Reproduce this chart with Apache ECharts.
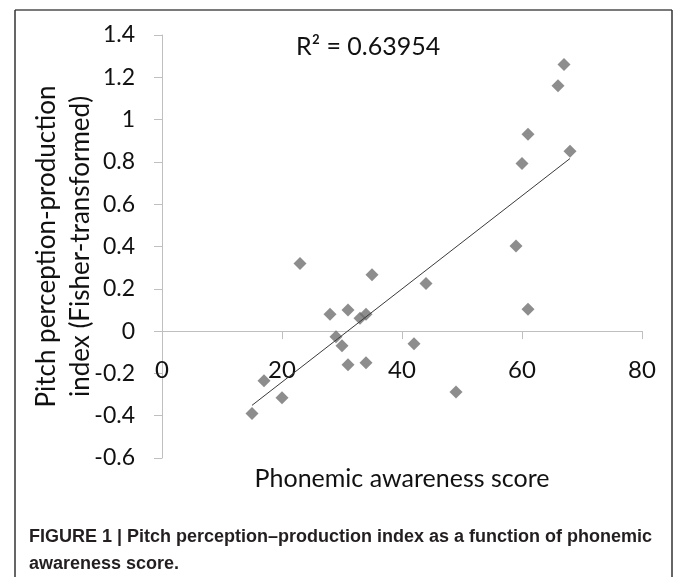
<!DOCTYPE html>
<html>
<head>
<meta charset="utf-8">
<script src="https://cdn.jsdelivr.net/npm/echarts@6/dist/echarts.min.js"></script>
<style>
  body { margin: 0; background: #fff; }
  #chart { width: 675px; height: 577px; }
</style>
</head>
<body>
<div id="chart"></div>
<script>
// phonemic awareness score (x) vs pitch perception-production index (y)
const scoreX = [15, 17, 20, 23, 28, 29, 30, 31, 31, 33, 34, 34, 35, 42, 44, 49, 59, 60, 61, 61, 66, 67, 68]
const indexY = [-0.39, -0.235, -0.315, 0.32, 0.08, -0.027, -0.069, 0.1, -0.159, 0.061, 0.08, -0.15, 0.266, -0.06, 0.225, -0.288, 0.402, 0.793, 0.931, 0.103, 1.16, 1.26, 0.85]
// linear trendline end points as drawn
const trendX = [15, 68]
const trendY = [-0.351, 0.816]
const xTicks = [0, 20, 40, 60, 80]
const yTicks = [-0.6, -0.4, -0.2, 0, 0.2, 0.4, 0.6, 0.8, 1, 1.2, 1.4]
const rSquared = 'R² = 0.63954'

const font = 'Lato, "Open Sans", sans-serif'
const chart = echarts.init(document.getElementById('chart'), null, { renderer: 'canvas' })

chart.setOption({
  animation: false,
  backgroundColor: '#fff',
  grid: { left: 162, right: 33, top: 35, bottom: 119, containLabel: false, outerBoundsMode: 'none' },
  title: [{
    text: rSquared,
    left: 291,
    top: 29,
    textStyle: { fontFamily: font, fontSize: 25, fontWeight: 'normal', color: '#111' }
  }, {
    text: 'FIGURE 1 | Pitch perception\u2013production index as a function of phonemic\nawareness score.',
    left: 24,
    top: 519,
    textStyle: {
      fontFamily: '"Liberation Sans Narrow", "Liberation Sans", sans-serif',
      fontSize: 18,
      fontWeight: 'bold',
      color: '#231f20',
      lineHeight: 27
    }
  }],
  graphic: [
    { type: 'line', shape: { x1: 15, y1: 10, x2: 672, y2: 10 }, style: { stroke: '#7a7a7a', lineWidth: 2 } },
    { type: 'line', shape: { x1: 15, y1: 10, x2: 15, y2: 577 }, style: { stroke: '#333', lineWidth: 1.5 } },
    { type: 'line', shape: { x1: 672, y1: 10, x2: 672, y2: 577 }, style: { stroke: '#333', lineWidth: 1.5 } }
  ],
  xAxis: {
    type: 'value',
    min: xTicks[0],
    max: xTicks[xTicks.length - 1],
    interval: 20,
    name: 'Phonemic awareness score',
    nameLocation: 'middle',
    nameGap: 8,
    nameTextStyle: { fontFamily: font, fontSize: 25, color: '#111' },
    axisLine: { onZero: true, lineStyle: { color: '#bfbfbf', width: 1 } },
    axisTick: { show: true, length: 8, lineStyle: { color: '#bfbfbf' } },
    // labels sit just under the zero line, as in the original
    axisLabel: { fontFamily: font, fontSize: 24, color: '#111', margin: -100 },
    splitLine: { show: false }
  },
  yAxis: {
    type: 'value',
    min: yTicks[0],
    max: yTicks[yTicks.length - 1],
    interval: 0.2,
    name: 'Pitch perception-production\nindex (Fisher-transformed)',
    nameLocation: 'middle',
    nameRotate: 90,
    nameGap: 64,
    nameMoveOverlap: false,
    nameTextStyle: { fontFamily: font, fontSize: 26, color: '#111', lineHeight: 34 },
    axisLine: { show: true, onZero: false, lineStyle: { color: '#bfbfbf', width: 1 } },
    axisTick: { show: true, length: 8, lineStyle: { color: '#bfbfbf' } },
    axisLabel: { fontFamily: font, fontSize: 23, color: '#111', margin: 27 },
    splitLine: { show: false }
  },
  series: [{
    type: 'scatter',
    symbol: 'diamond',
    symbolSize: 13,
    itemStyle: { color: '#717171' },
    data: scoreX.map((x, i) => [x, indexY[i]])
  }, {
    type: 'line',
    symbol: 'none',
    lineStyle: { color: '#3a3a3a', width: 1 },
    data: trendX.map((x, i) => [x, trendY[i]])
  }]
})
</script>
</body>
</html>
